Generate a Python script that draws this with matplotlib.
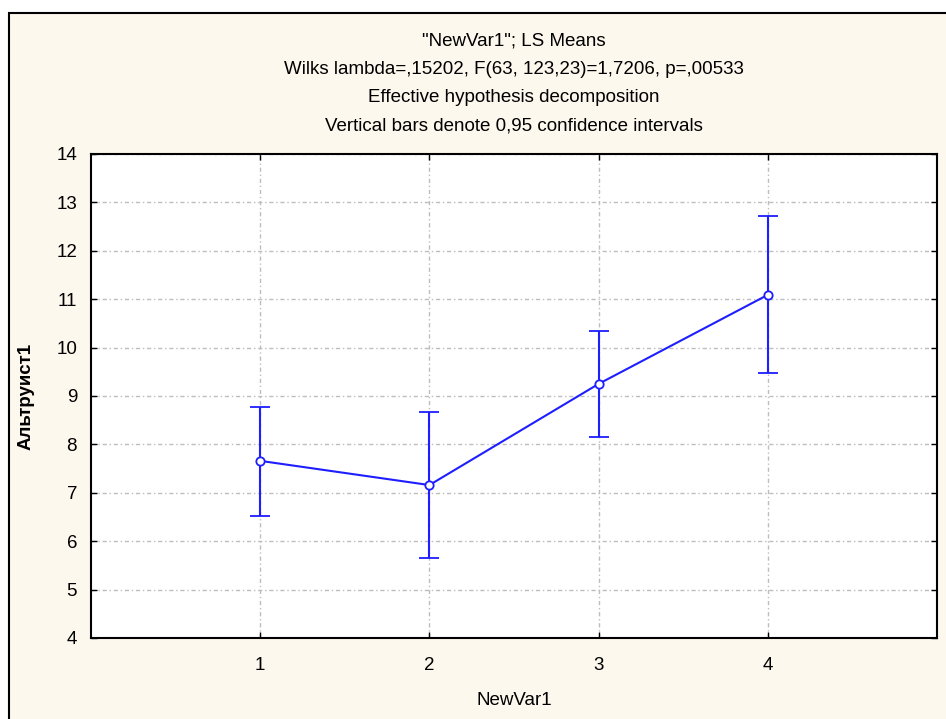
import matplotlib.pyplot as plt
from matplotlib.patches import Rectangle

plt.rcParams["font.family"] = ["Liberation Sans", "DejaVu Sans"]

# data
groups = [1, 2, 3, 4]
means = [7.66, 7.16, 9.25, 11.09]
ci_low = [6.52, 5.65, 8.15, 9.48]
ci_high = [8.77, 8.67, 10.34, 12.72]

titles = [
    '"NewVar1"; LS Means',
    "Wilks lambda=,15202, F(63, 123,23)=1,7206, p=,00533",
    "Effective hypothesis decomposition",
    "Vertical bars denote 0,95 confidence intervals",
]

BLUE = "#1e1eff"
CREAM = "#fdf8ee"
FONTSIZE = 13.5

W, H = 946, 719
fig = plt.figure(figsize=(W / 100, H / 100), dpi=100)
fig.patch.set_facecolor("white")

# framed cream panel, running off the right and bottom edges
frame = Rectangle((9 / W, -0.05), 1.0, 1 - 13 / H + 0.05,
                  transform=fig.transFigure, facecolor=CREAM,
                  edgecolor="black", linewidth=1.5, zorder=-10)
fig.patches.append(frame)

ax = fig.add_axes([91 / W, 1 - 638 / H, (937 - 91) / W, (638 - 154) / H])
ax.set_facecolor("white")

yerr = [[m - l for m, l in zip(means, ci_low)],
        [h - m for m, h in zip(means, ci_high)]]
ax.errorbar(groups, means, yerr=yerr, color=BLUE, linewidth=1.5,
            elinewidth=1.5, capsize=7, capthick=1.5, marker="o",
            markersize=6, markerfacecolor="white", markeredgecolor=BLUE,
            markeredgewidth=1.3, zorder=3)

ax.set_xlim(0, 5)
ax.set_ylim(4, 14)
ax.set_xticks(groups)
ax.set_yticks(range(4, 15))
ax.grid(True, color="#bdbdbd", linestyle=(0, (3, 2, 1, 2)), linewidth=1.0)
ax.tick_params(direction="in", length=4, width=1.0, labelsize=FONTSIZE,
               right=True, top=True)
ax.tick_params(axis="y", pad=10)
ax.tick_params(axis="x", pad=14)
for spine in ax.spines.values():
    spine.set_linewidth(1.5)

ax.set_xlabel("NewVar1", fontsize=FONTSIZE)
ax.set_ylabel("Альтруист1", fontsize=FONTSIZE, fontweight="bold")
ax.xaxis.set_label_coords(0.5, -(692 - 638) / (638 - 154))
ax.yaxis.set_label_coords(-(91 - 35) / (937 - 91), 0.5)

for i, t in enumerate(titles):
    fig.text(0.5 * (91 + 937) / W, 1 - (41 + 28.3 * i) / H, t,
             ha="center", va="center", fontsize=FONTSIZE)

fig.savefig("out.png", dpi=100, facecolor=fig.get_facecolor())
